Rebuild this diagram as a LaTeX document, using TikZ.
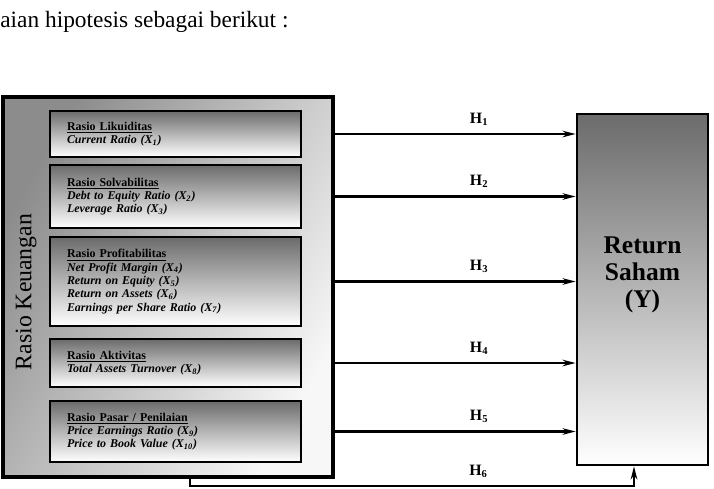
\documentclass[tikz,border=0pt]{standalone}
\usepackage{fontspec}
\setmainfont{Liberation Serif}
\usetikzlibrary{arrows.meta, positioning}

\begin{document}
\begin{tikzpicture}[x=0.02cm,y=-0.02cm,>={Stealth[length=2.6mm,width=1.3mm]}]
\tikzset{ratio/.style={draw, line width=1.6pt, top color=black!58, bottom color=white,
    minimum width=5.02cm, text width=4.34cm, inner xsep=0.34cm, align=left,
    font=\fontsize{6.8}{7.6}\selectfont\bfseries\itshape},
  arr/.style={->, line width=1.4pt},
  hyp/.style={above=1pt, pos=0.6, font=\fontsize{9}{10}\selectfont\bfseries}}
\useasboundingbox (0,0) rectangle (714,488);
\node[anchor=base west, inner sep=0, font=\fontsize{13.3}{15}\selectfont] (intro) at (0,27) {aian hipotesis sebagai berikut :};
% variabel independen
\node[draw, line width=1.8pt, top color=black!45, bottom color=black!3, shading angle=60,
  minimum width=6.6cm, minimum height=7.6cm] (outer) at (168,287) {};
\node[rotate=90, font=\fontsize{13.5}{15}\selectfont] (keu) at (26,292) {Rasio Keuangan};
\node[ratio, minimum height=0.92cm] (b1) at (175.5,134) {\underline{\upshape Rasio Likuiditas}\\
  Current Ratio (X\textsubscript{1})};
\node[ratio, minimum height=1.26cm] (b2) at (175.5,196.5) {\underline{\upshape Rasio Solvabilitas}\\
  Debt to Equity Ratio (X\textsubscript{2})\\ Leverage Ratio (X\textsubscript{3})};
\node[ratio, minimum height=1.78cm] (b3) at (175.5,281.5) {\underline{\upshape Rasio Profitabilitas}\\
  Net Profit Margin (X\textsubscript{4})\\ Return on Equity (X\textsubscript{5})\\
  Return on Assets (X\textsubscript{6})\\ Earnings per Share Ratio (X\textsubscript{7})};
\node[ratio, minimum height=0.96cm] (b4) at (175.5,363) {\underline{\upshape Rasio Aktivitas}\\
  Total Assets Turnover (X\textsubscript{8})};
\node[ratio, minimum height=1.22cm] (b5) at (175.5,431.5) {\underline{\upshape Rasio Pasar / Penilaian}\\
  Price Earnings Ratio (X\textsubscript{9})\\ Price to Book Value (X\textsubscript{10})};
% variabel dependen
\node[draw, line width=1.6pt, top color=black!58, bottom color=white,
  minimum width=2.62cm, minimum height=7.02cm,
  label={[yshift=0.3cm, align=center, font=\fontsize{14.5}{15.3}\selectfont\bfseries]center:{Return\\Saham\\(Y)}}] (ret) at (642.5,289.5) {};
\coordinate (bend) at (190,486);
\coordinate (turn) at (634,486);
\path[arr] (outer.east |- b1) edge node[hyp] {H\textsubscript{1}} (ret.west |- b1);
\path[arr] (outer.east |- b2) edge node[hyp] {H\textsubscript{2}} (ret.west |- b2);
\path[arr] (outer.east |- b3) edge node[hyp] {H\textsubscript{3}} (ret.west |- b3);
\path[arr] (outer.east |- b4) edge node[hyp] {H\textsubscript{4}} (ret.west |- b4);
\path[arr] (outer.east |- b5) edge node[hyp] {H\textsubscript{5}} (ret.west |- b5);
\draw[arr] (outer.south -| bend) -- (bend) -- node[hyp, pos=0.65] {H\textsubscript{6}} (turn) -- (ret.south -| turn);
\end{tikzpicture}
\end{document}
